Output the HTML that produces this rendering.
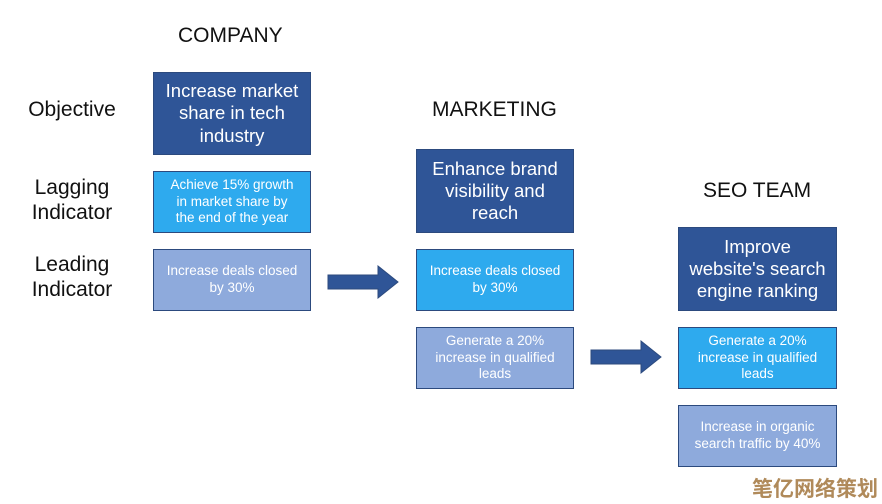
<!DOCTYPE html>
<html><head><style>
body{margin:0;width:882px;height:504px;background:#fff;position:relative;overflow:hidden;font-family:"Liberation Sans","DejaVu Sans",sans-serif}
.b{position:absolute;box-sizing:border-box;border:1.5px solid #2c4a7e;color:#fff;display:flex;align-items:center;justify-content:center;text-align:center;line-height:1.2}
.d{background:#2f5597;font-size:18.5px}
.c{background:#2eaaee;font-size:13.5px;line-height:1.25}
.l{background:#8eaadc;font-size:13.5px;line-height:1.25}
.t{position:absolute;font-size:21px;color:#111;text-align:center}
.h{position:absolute;font-size:21px;color:#111}
</style></head><body>
<div class="h" style="left:178px;top:24px">COMPANY</div>
<div class="h" style="left:432px;top:98px">MARKETING</div>
<div class="h" style="left:703px;top:179px">SEO TEAM</div>
<div class="t" style="left:20px;top:98px;width:104px">Objective</div>
<div class="t" style="left:20px;top:175px;width:104px;line-height:25px">Lagging<br>Indicator</div>
<div class="t" style="left:20px;top:252px;width:104px;line-height:25px">Leading<br>Indicator</div>

<div class="b d" style="left:153px;top:72px;width:158px;height:83px">Increase market<br>share in tech<br>industry</div>
<div class="b c" style="left:153px;top:171px;width:158px;height:62px">Achieve 15% growth<br>in market share by<br>the end of the year</div>
<div class="b l" style="left:153px;top:249px;width:158px;height:62px">Increase deals closed<br>by 30%</div>

<div class="b d" style="left:416px;top:149px;width:158px;height:84px">Enhance brand<br>visibility and<br>reach</div>
<div class="b c" style="left:416px;top:249px;width:158px;height:62px">Increase deals closed<br>by 30%</div>
<div class="b l" style="left:416px;top:327px;width:158px;height:62px">Generate a 20%<br>increase in qualified<br>leads</div>

<div class="b d" style="left:678px;top:227px;width:159px;height:84px">Improve<br>website's search<br>engine ranking</div>
<div class="b c" style="left:678px;top:327px;width:159px;height:62px">Generate a 20%<br>increase in qualified<br>leads</div>
<div class="b l" style="left:678px;top:405px;width:159px;height:62px">Increase in organic<br>search traffic by 40%</div>

<svg width="882" height="504" style="position:absolute;left:0;top:0">
<polygon points="328,275 378,275 378,266 398,282 378,298 378,289 328,289" fill="#2f5597" stroke="#2c4a7e"/>
<polygon points="591,350 641,350 641,341 661,357 641,373 641,364 591,364" fill="#2f5597" stroke="#2c4a7e"/>
</svg>
<div style="position:absolute;left:752px;top:473px;font-size:21px;font-weight:bold;color:#b08a5a;font-family:'Noto Sans CJK SC',sans-serif">笔亿网络策划</div>
</body></html>
